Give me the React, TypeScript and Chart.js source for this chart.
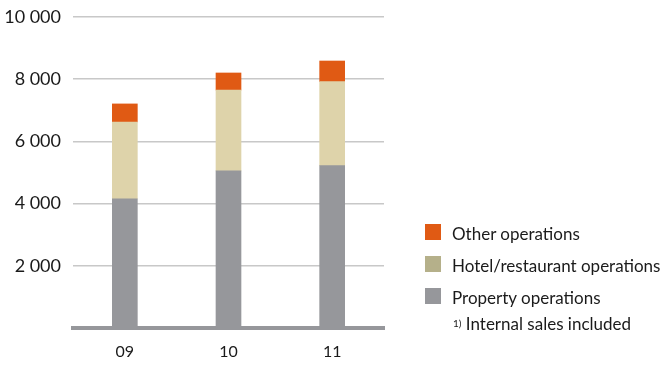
import React, { useEffect, useRef } from "react";
import { Chart, registerables } from "chart.js";

Chart.register(...registerables);

const categories = ["09", "10", "11"];
const propertyOps = [4150, 5050, 5220];
const hotelOps = [2475, 2600, 2700];
const otherOps = [580, 550, 665];
const yTicks = [2000, 4000, 6000, 8000, 10000];

const FONT = "Lato, 'Open Sans', sans-serif";
const C_PROP = "#96979b";
const C_HOTEL = "#ded3aa";
const C_HOTEL_LEG = "#b5b08a";
const C_OTHER = "#e05a14";

const legendItems = [
  { label: "Other operations", color: C_OTHER },
  { label: "Hotel/restaurant operations", color: C_HOTEL_LEG },
  { label: "Property operations", color: C_PROP },
];

function fmt(v: number) {
  return String(v).replace(/\B(?=(\d{3})+(?!\d))/g, " ");
}

export default function App() {
  const ref = useRef<HTMLCanvasElement | null>(null);
  useEffect(() => {
    if (!ref.current) return;
    const chart = new Chart(ref.current, {
      type: "bar",
      data: {
        labels: categories,
        datasets: [
          { label: "Property operations", data: propertyOps, backgroundColor: C_PROP, barThickness: 25 },
          { label: "Hotel/restaurant operations", data: hotelOps, backgroundColor: C_HOTEL, barThickness: 25 },
          { label: "Other operations", data: otherOps, backgroundColor: C_OTHER, barThickness: 25 },
        ],
      },
      options: {
        animation: false,
        responsive: false,
        maintainAspectRatio: false,
        layout: { padding: { top: 17, right: 284, bottom: 0, left: 0 } },
        plugins: { legend: { display: false }, tooltip: { enabled: false } },
        scales: {
          x: {
            stacked: true,
            grid: { display: false, drawTicks: false },
            border: { display: true, color: C_PROP, width: 4 },
            ticks: { color: "#1a1a1a", font: { family: FONT, size: 16 }, padding: 14 },
            afterFit: (s: any) => { s.height = 41; s.paddingLeft = 0; s.paddingRight = 0; },
          },
          y: {
            stacked: true,
            min: 0,
            max: 10000,
            afterBuildTicks: (s: any) => { s.ticks = yTicks.map((v) => ({ value: v })); },
            grid: { color: "#c8c8c8", lineWidth: 1.5, drawTicks: false },
            border: { display: false },
            ticks: {
              color: "#1a1a1a",
              font: { family: FONT, size: 18 },
              padding: 12,
              callback: (v: any) => fmt(Number(v)),
            },
            afterFit: (s: any) => { s.width = 73; s.paddingTop = 0; s.paddingBottom = 0; },
          },
        },
      },
    });
    return () => chart.destroy();
  }, []);

  return (
    <div style={{ position: "absolute", left: 0, top: 0, width: 668, height: 369, background: "#fff" }}>
      <canvas ref={ref} width={668} height={369} style={{ position: "absolute", left: 0, top: 0 }} />
      <div style={{ position: "absolute", left: 425, top: 224, fontFamily: FONT, fontSize: 17, color: "#1a1a1a" }}>
        {legendItems.map((it, i) => (
          <div key={i} style={{ position: "absolute", left: 0, top: i * 32, height: 16, width: 260, whiteSpace: "nowrap" }}>
            <div style={{ position: "absolute", left: 0, top: 0, width: 16, height: 16, background: it.color }} />
            <div style={{ position: "absolute", left: 27, top: -1, lineHeight: "21px" }}>{it.label}</div>
          </div>
        ))}
        <div style={{ position: "absolute", left: 28, top: 89, lineHeight: "21px", whiteSpace: "nowrap" }}>
          <sup style={{ fontSize: 10, verticalAlign: "top", position: "relative", top: 0 }}>1)</sup> Internal sales included
        </div>
      </div>
    </div>
  );
}
